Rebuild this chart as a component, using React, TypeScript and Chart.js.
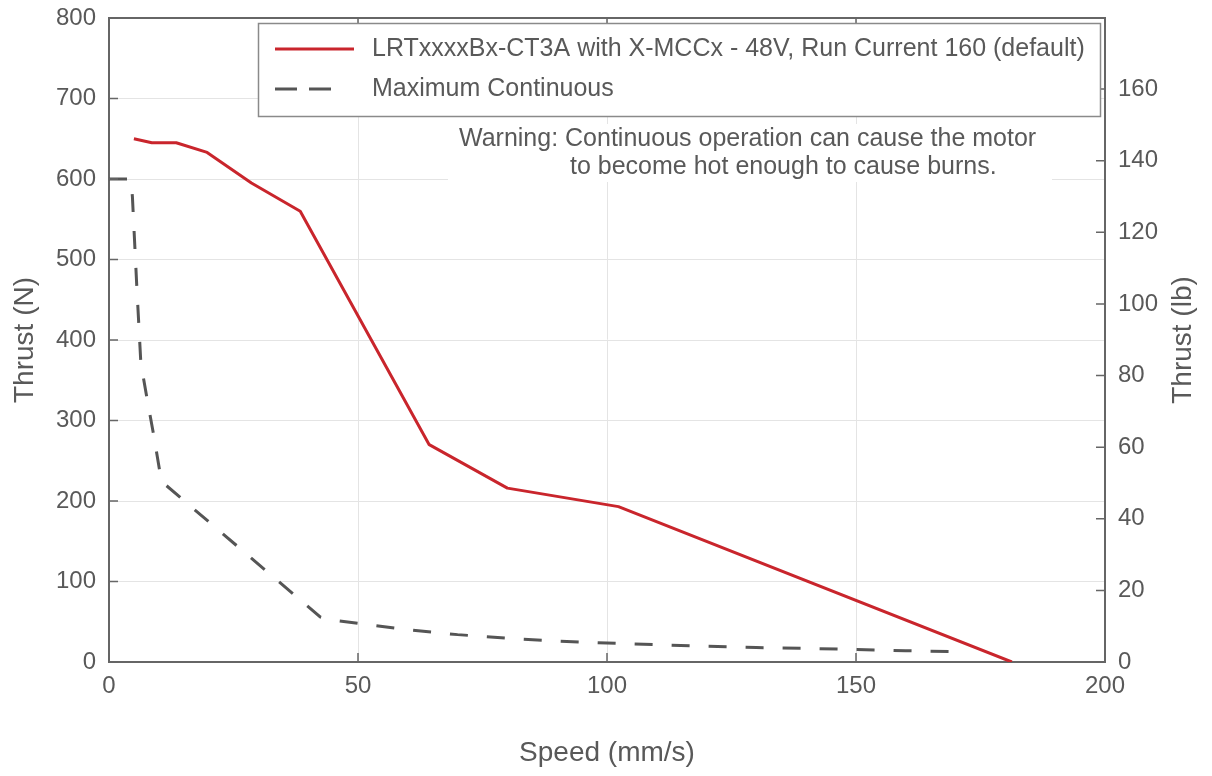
import React, { useEffect, useRef } from "react";
import { Chart, registerables } from "chart.js";

Chart.register(...registerables);

// ---- data ----
const seriesLabels = [
  "LRTxxxxBx-CT3A with X-MCCx - 48V, Run Current 160 (default)",
  "Maximum Continuous",
];
const speedRated = [5, 8.6, 13.5, 19.7, 28.6, 38.4, 64.3, 80, 102.3, 181.3];
const thrustRated = [650, 645, 645, 633, 595, 560, 270, 216, 193, 0];

const speedCont = [0, 4.4, 4.7, 5.6, 6.4, 7.7, 9, 10.3, 10.6, 42.4, 44, 50, 60, 70, 80, 90, 100, 110, 120, 130, 140, 150, 160, 172];
const thrustCont = [600, 600, 578, 464, 371, 325, 281, 233, 224, 56, 53, 48, 40, 34, 29.5, 26, 23.5, 21.5, 19.5, 18, 17, 15.5, 14, 12.8];

const xTicks = [0, 50, 100, 150, 200];
const yTicksN = [0, 100, 200, 300, 400, 500, 600, 700, 800];
const yTicksLb = [0, 20, 40, 60, 80, 100, 120, 140, 160];
const N_PER_LB = 4.44822;

const xTitle = "Speed (mm/s)";
const yTitleLeft = "Thrust (N)";
const yTitleRight = "Thrust (lb)";
const warningLines = [
  "Warning: Continuous operation can cause the motor",
  "to become hot enough to cause burns.",
];

// ---- styles ----
const FONT = "'Liberation Sans', Arial, Helvetica, sans-serif";
const TEXT = "#595959";
const AXIS = "#666666";
const GRID = "#e4e4e4";
const RED = "#c9252c";
const DARK = "#555555";

const decorPlugin = {
  id: "decor",
  afterDatasetsDraw(chart: any) {
    const { ctx, chartArea: ca, scales } = chart;
    ctx.save();

    // top frame line
    ctx.strokeStyle = AXIS;
    ctx.lineWidth = 2;
    ctx.beginPath();
    ctx.moveTo(ca.left - 1, ca.top);
    ctx.lineTo(ca.right + 1, ca.top);
    ctx.stroke();

    // inward tick marks
    ctx.lineWidth = 1.5;
    const tl = 9;
    ctx.beginPath();
    for (const v of xTicks) {
      const px = scales.x.getPixelForValue(v);
      ctx.moveTo(px, ca.bottom);
      ctx.lineTo(px, ca.bottom - tl);
      ctx.moveTo(px, ca.top);
      ctx.lineTo(px, ca.top + tl);
    }
    for (const v of yTicksN) {
      const py = scales.y.getPixelForValue(v);
      ctx.moveTo(ca.left, py);
      ctx.lineTo(ca.left + tl, py);
    }
    for (const v of yTicksLb) {
      const py = scales.y2.getPixelForValue(v);
      ctx.moveTo(ca.right, py);
      ctx.lineTo(ca.right - tl, py);
    }
    ctx.stroke();

    // warning annotation (white background)
    const wx = ca.left + 339;
    const wy = ca.top + 106;
    ctx.fillStyle = "#ffffff";
    ctx.fillRect(wx, wy, 604, 58);
    ctx.fillStyle = TEXT;
    ctx.font = `25px ${FONT}`;
    ctx.textBaseline = "middle";
    ctx.textAlign = "left";
    ctx.fillText(warningLines[0], ca.left + 350, ca.top + 121);
    ctx.fillText(warningLines[1], ca.left + 461, ca.top + 149);

    // legend box
    const lx = ca.left + 149.5;
    const ly = ca.top + 5.5;
    const lw = 842;
    const lh = 93;
    ctx.fillStyle = "#ffffff";
    ctx.fillRect(lx, ly, lw, lh);
    ctx.strokeStyle = "#8a8a8a";
    ctx.lineWidth = 1.5;
    ctx.strokeRect(lx, ly, lw, lh);

    const ds = chart.data.datasets;
    const rows = [ca.top + 31, ca.top + 71];
    ds.forEach((d: any, i: number) => {
      const y = rows[i];
      ctx.strokeStyle = d.borderColor;
      ctx.lineWidth = 3;
      ctx.setLineDash(d.borderDash ? [22, 12] : []);
      ctx.beginPath();
      ctx.moveTo(ca.left + 166, y);
      ctx.lineTo(ca.left + (d.borderDash ? 223 : 245), y);
      ctx.stroke();
      ctx.setLineDash([]);
      ctx.fillStyle = TEXT;
      ctx.font = `25px ${FONT}`;
      ctx.textBaseline = "middle";
      ctx.textAlign = "left";
      ctx.fillText(d.label, ca.left + 263, y);
    });

    // right axis title (reads bottom-to-top)
    ctx.translate(scales.y2.right - 28.5, (ca.top + ca.bottom) / 2);
    ctx.rotate(-Math.PI / 2);
    ctx.font = `28px ${FONT}`;
    ctx.fillStyle = TEXT;
    ctx.textAlign = "center";
    ctx.textBaseline = "middle";
    ctx.fillText(yTitleRight, 0, 0);

    ctx.restore();
  },
};

export default function App() {
  const ref = useRef<HTMLCanvasElement | null>(null);

  useEffect(() => {
    if (!ref.current) return;
    const tickFont = { family: FONT, size: 24 };
    const titleFont = { family: FONT, size: 28 };
    const chart = new Chart(ref.current, {
      type: "line",
      data: {
        datasets: [
          {
            label: seriesLabels[0],
            data: speedRated.map((x, i) => ({ x, y: thrustRated[i] })),
            borderColor: RED,
            borderWidth: 3,
            pointRadius: 0,
            tension: 0,
            yAxisID: "y",
            borderJoinStyle: "round",
          },
          {
            label: seriesLabels[1],
            data: speedCont.map((x, i) => ({ x, y: thrustCont[i] })),
            borderColor: DARK,
            borderWidth: 3,
            borderDash: [18, 19],
            pointRadius: 0,
            tension: 0,
            yAxisID: "y",
          },
        ],
      },
      options: {
        responsive: false,
        animation: false,
        layout: { padding: { top: 18, left: 0, right: 0, bottom: 0 } },
        plugins: { legend: { display: false }, tooltip: { enabled: false } },
        scales: {
          x: {
            type: "linear",
            min: 0,
            max: 200,
            afterBuildTicks: (s: any) => {
              s.ticks = xTicks.map((v) => ({ value: v }));
            },
            afterFit: (s: any) => {
              s.height = 114;
              s.paddingLeft = 0;
              s.paddingRight = 0;
            },
            grid: { color: GRID, lineWidth: 1, drawTicks: false },
            border: { color: AXIS, width: 2 },
            ticks: { padding: 9.6, color: TEXT, font: tickFont, maxRotation: 0 },
            title: {
              display: true,
              text: xTitle,
              color: TEXT,
              font: titleFont,
              padding: { top: 0, bottom: 6 },
            },
          },
          y: {
            type: "linear",
            position: "left",
            min: 0,
            max: 800,
            afterBuildTicks: (s: any) => {
              s.ticks = yTicksN.map((v) => ({ value: v }));
            },
            afterFit: (s: any) => {
              s.width = 109;
              s.paddingTop = 0;
              s.paddingBottom = 0;
            },
            grid: { color: GRID, lineWidth: 1, drawTicks: false },
            border: { color: AXIS, width: 2 },
            ticks: { padding: 13, color: TEXT, font: tickFont },
            title: {
              display: true,
              text: yTitleLeft,
              color: TEXT,
              font: titleFont,
              padding: { top: 8, bottom: 0 },
            },
          },
          y2: {
            type: "linear",
            position: "right",
            min: 0,
            max: 800 / N_PER_LB,
            afterBuildTicks: (s: any) => {
              s.ticks = yTicksLb.map((v) => ({ value: v }));
            },
            afterFit: (s: any) => {
              s.width = 107;
              s.paddingTop = 0;
              s.paddingBottom = 0;
            },
            grid: { drawOnChartArea: false, drawTicks: false },
            border: { color: AXIS, width: 2 },
            ticks: { padding: 13, color: TEXT, font: tickFont },
            title: { display: false },
          },
        },
      } as any,
      plugins: [decorPlugin],
    });
    return () => chart.destroy();
  }, []);

  return (
    <div style={{ position: "absolute", left: 0, top: 0, width: 1212, height: 776, background: "#fff" }}>
      <canvas ref={ref} width={1212} height={776} style={{ display: "block" }} />
    </div>
  );
}
